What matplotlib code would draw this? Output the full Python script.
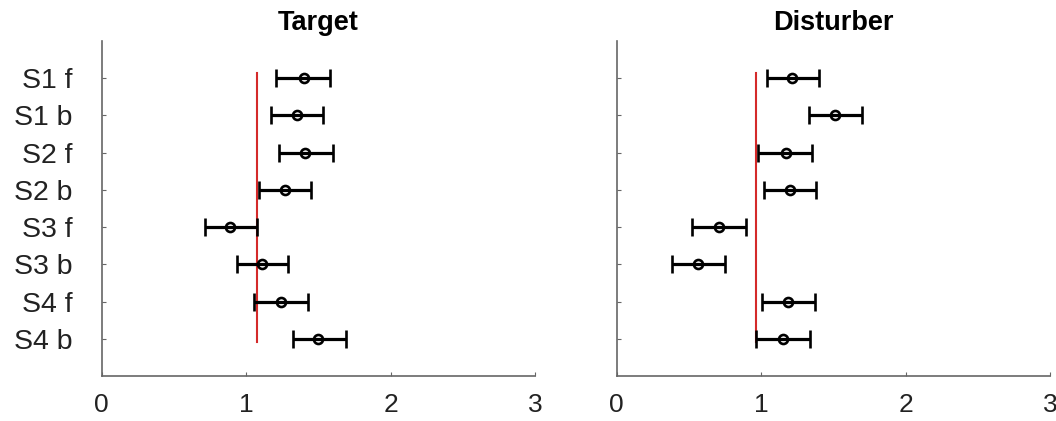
import matplotlib
matplotlib.use("Agg")
import matplotlib.pyplot as plt
import numpy as np

plt.rcParams['font.family'] = ['Liberation Sans', 'DejaVu Sans']

labels = ["S1 f", "S1 b", "S2 f", "S2 b", "S3 f", "S3 b", "S4 f", "S4 b"]

target_mean = [1.40, 1.35, 1.41, 1.27, 0.89, 1.11, 1.24, 1.50]
target_lo = [1.21, 1.17, 1.23, 1.09, 0.715, 0.935, 1.056, 1.326]
target_hi = [1.58, 1.53, 1.60, 1.45, 1.073, 1.29, 1.426, 1.69]
target_ref = 1.073

dist_mean = [1.215, 1.513, 1.169, 1.201, 0.708, 0.565, 1.188, 1.151]
dist_lo = [1.038, 1.331, 0.980, 1.017, 0.521, 0.381, 1.008, 0.966]
dist_hi = [1.402, 1.700, 1.349, 1.379, 0.893, 0.752, 1.374, 1.340]
dist_ref = 0.962

panels = [
    ("Target", target_mean, target_lo, target_hi, target_ref),
    ("Disturber", dist_mean, dist_lo, dist_hi, dist_ref),
]

fig = plt.figure(figsize=(10.56, 4.21), dpi=100)
lefts = [0.0963, 0.584]
spine_col = '#666666'

y = np.arange(1, len(labels) + 1)

for i, (title, mean, lo, hi, ref) in enumerate(panels):
    ax = fig.add_axes([lefts[i], 0.1069, 0.4103, 0.7957])
    mean = np.array(mean)
    xerr = [mean - np.array(lo), np.array(hi) - mean]
    ax.plot([ref, ref], [0.85, 8.1], color='#d42a2a', lw=1.5, zorder=1)
    ax.errorbar(mean, y, xerr=xerr, fmt='o', color='black', ecolor='black',
                elinewidth=2.3, capsize=6.5, capthick=2.3,
                markersize=6.5, markerfacecolor='none', markeredgewidth=1.9,
                zorder=3)
    ax.set_xlim(0, 3)
    ax.set_ylim(9, 0)
    ax.set_xticks([0, 1, 2, 3])
    ax.set_xticklabels(['0', '1', '2', '3'])
    ax.set_yticks(y)
    if i == 0:
        ax.set_yticklabels(labels)
    else:
        ax.set_yticklabels([])
    for s in ['top', 'right']:
        ax.spines[s].set_visible(False)
    for s in ['left', 'bottom']:
        ax.spines[s].set_color(spine_col)
        ax.spines[s].set_linewidth(1.2)
    ax.tick_params(axis='both', direction='in', length=3, width=0.8,
                   color=spine_col, labelcolor='#222222')
    ax.tick_params(axis='y', pad=21, labelsize=20.5)
    ax.tick_params(axis='x', pad=12, labelsize=19)
    ax.set_title(title, fontsize=19.5, fontweight='bold', pad=8)

fig.savefig("out.png", dpi=100)
